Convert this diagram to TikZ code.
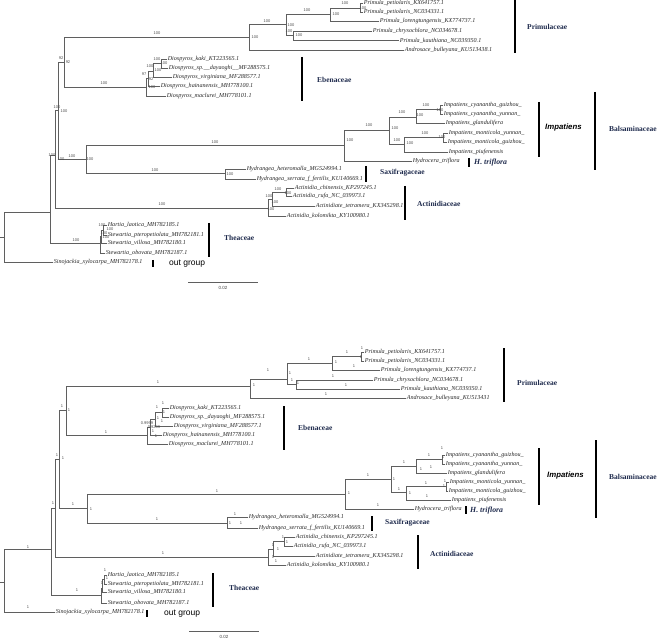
\documentclass[tikz,border=0pt]{standalone}
\usepackage{fontspec}
\setmainfont{Liberation Serif}
\setsansfont{Liberation Sans}
\definecolor{branchgray}{HTML}{5F5F5F}
\definecolor{famblue}{HTML}{1F2B4D}
\usetikzlibrary{positioning}

\begin{document}
\begin{tikzpicture}[
    x=1pt, y=-1pt,
    branch/.style={draw=branchgray, line width=0.7pt},
    leaf/.style={anchor=west, inner sep=0.6pt, text=black!85,
                 font=\fontsize{6.1}{7}\selectfont\itshape},
    supp/.style={inner sep=0pt, text=black!70,
                 font=\sffamily\fontsize{4}{4}\selectfont},
    fam/.style={anchor=west, inner sep=0pt, text=famblue,
                font=\fontsize{7.5}{9}\selectfont\bfseries},
    genus/.style={anchor=west, inner sep=0pt,
                  font=\sffamily\fontsize{7.8}{9}\selectfont\bfseries\itshape},
    outg/.style={anchor=west, inner sep=0pt,
                 font=\sffamily\fontsize{8.5}{10}\selectfont},
    famline/.style={line width=2.6pt},
    scalelbl/.style={inner sep=0pt, text=black!75,
                     font=\sffamily\fontsize{4.5}{5}\selectfont}
  ]
  \useasboundingbox (0,0) rectangle (659,639);

  % ---------------- top tree (bootstrap) ----------------
  \foreach \n/\x/\y in {tRoot/4/237, tA/50/212, tR/55/155, tQ/58/110, tP/64/62,
      tPr/249/37, tN1/286/24.5, tPl/330/14, tPp/360/8, tCk/293/35.5,
      tE0/146/87, tE1/148/78, tE2/153/71, tE3/161/63.5,
      tBH/86/159, tBa/344/145, tI0/389/130, tI1/416/117, tCy/440/109.5,
      tI2/404/144, tMo/443/137.5, tHy/225/173,
      tA0/268/208, tA1/272/199, tA2/286/192,
      tT0/100/243, tT1/101.5/236.5, tT2/103/230}
    \coordinate (\n) at (\x,\y);
  \coordinate (tStub) at (0,237);

  \foreach \n/\x/\y/\t in {
      tPet1/363/3.5/{Primula\_petiolaris\_KX641757.1},
      tPet2/363/12.5/{Primula\_petiolaris\_NC034331.1},
      tLor/379/21.5/{Primula\_lorengtungensis\_KX774737.1},
      tChr/372/31/{Primula\_chrysochlora\_NC034678.1},
      tKau/399/40.5/{Primula\_kauthiana\_NC039350.1},
      tAnd/404/50/{Androsace\_bulleyana\_KU513438.1},
      tKak/167/59/{Diospyros\_kaki\_KT223565.1},
      tDsp/168/68/{Diospyros\_sp.\_\_dayaoghi\_\_MF288575.1},
      tVir/172/77.5/{Diospyros\_virginiana\_MF288577.1},
      tHai/160/86.5/{Diospyros\_hainanensis\_MH778100.1},
      tMac/166/96/{Diospyros\_maclurei\_MH778101.1},
      tCyg/443/105/{Impatiens\_cyanantha\_guizhou\_},
      tCyy/443/114/{Impatiens\_cyanantha\_yunnan\_},
      tGla/445/123/{Impatiens\_glandulifera},
      tMoy/448/133/{Impatiens\_monticola\_yunnan\_},
      tMog/447/142/{Impatiens\_monticola\_guizhou\_},
      tPiu/448/152/{Impatiens\_piufenensis},
      tHyd/412/161/{Hydrocera\_triflora},
      tHet/246/169/{Hydrangea\_heteromalla\_MG524994.1},
      tSer/256/179/{Hydrangea\_serrata\_f\_fertilis\_KU140669.1},
      tChi/294/188/{Actinidia\_chinensis\_KP297245.1},
      tRuf/292/196/{Actinidia\_rufa\_NC\_039973.1},
      tTet/315/206/{Actinidiate\_tetramera\_KX345298.1},
      tKol/286/216/{Actinidia\_kolomikta\_KY100980.1},
      tHar/107/225/{Hartia\_laotica\_MH782185.1},
      tPte/107/235/{Stewartia\_pteropetiolata\_MH782181.1},
      tVil/107/243/{Stewartia\_villosa\_MH782180.1},
      tObo/105/253/{Stewartia\_obovata\_MH782187.1},
      tSin/53/262/{Sinojackia\_xylocarpa\_MH782178.1}}
    \node[leaf] (\n) at (\x,\y) {\t};

  % branches
  \draw[branch] (tStub) -- (tRoot);
  \foreach \p/\c in {tRoot/tA, tA/tR, tA/tT0, tR/tQ, tR/tA0, tQ/tP, tQ/tBH,
      tP/tPr, tP/tE0, tPr/tN1, tN1/tPl, tN1/tCk, tPl/tPp,
      tE0/tE1, tE1/tE2, tE2/tE3, tBH/tBa, tBH/tHy, tBa/tI0, tI0/tI1,
      tI0/tI2, tI1/tCy, tI2/tMo, tA0/tA1, tA1/tA2, tT0/tT1, tT1/tT2}
    \draw[branch] (\p) |- (\c);
  \foreach \p/\c in {tPp/tPet1, tPp/tPet2, tPl/tLor, tCk/tChr, tCk/tKau,
      tPr/tAnd, tE3/tKak, tE3/tDsp, tE2/tVir, tE1/tHai, tE0/tMac,
      tCy/tCyg, tCy/tCyy, tI1/tGla, tMo/tMoy, tMo/tMog, tI2/tPiu,
      tBa/tHyd, tHy/tHet, tHy/tSer, tA2/tChi, tA2/tRuf, tA1/tTet,
      tA0/tKol, tT2/tHar, tT2/tPte, tT1/tVil, tT0/tObo, tRoot/tSin}
    \draw[branch] (\p) |- (\c.west);

  % support values
  \foreach \x/\y/\v [count=\i] in {52/155/100, 61/159/100, 72/156/100,
      90/159/100, 57/107/100, 64/111/100, 61/58/92, 68/62/92, 157/33/100,
      104/83/100, 215/142/100, 155/170/100, 162/204/100, 76/240/100,
      255/37/100, 267/21/100, 291/25/100, 289/31/100, 299/35/100,
      307/10/100, 336/14/100, 345/3/100, 363/7.8/100,
      157/59/100, 150/66/100, 164/63/100, 158/70/100, 144/74/97,
      151/79/92, 152/87/100,
      369/125/100, 350/140/100, 402/112/100, 420/115/100, 426/105/100,
      395/128/100, 397/140/100, 410/143/100, 425/133/100, 440/110/100,
      442/137/100, 230/174/100,
      278/189/100, 288/193/100, 269/196/100, 275/202/100, 271/209/100,
      102/225/100, 110/229/100, 104/233/100, 106/237/100}
    \node[supp] (tS\i) at (\x,\y) {\v};

  % clades
  \node[fam] (tPrimLbl) at (527,27) {Primulaceae};
  \node[fam] (tEbenLbl) at (317,80) {Ebenaceae};
  \node[genus] (tImpLbl) at (545,127) {Impatiens};
  \node[fam] (tBalsLbl) at (609,129) {Balsaminaceae};
  \node[fam, font=\fontsize{7.8}{9}\selectfont\bfseries\itshape]
    (tHtLbl) at (474,163) {H. triflora};
  \node[fam] (tSaxLbl) at (380,173) {Saxifragaceae};
  \node[fam] (tActLbl) at (417,204) {Actinidiaceae};
  \node[fam] (tTheaLbl) at (224,238) {Theaceae};
  \node[outg] (tOutLbl) at (169,264) {out group};
  \draw[famline] (515,0) -- (515,53);
  \draw[famline] (302,57) -- (302,101);
  \draw[famline] (539,102) -- (539,157);
  \draw[famline] (595,92) -- (595,170);
  \draw[famline] (469,158) -- (469,167);
  \draw[famline] (366,166) -- (366,182);
  \draw[famline] (405,186) -- (405,220);
  \draw[famline] (209,223) -- (209,257);
  \draw[famline] (153,260) -- (153,267);

  % scale
  \coordinate (tSc1) at (188,282);
  \coordinate (tSc2) at (258,282);
  \draw[branch] (tSc1) -- (tSc2);
  \node[scalelbl] (tScale) at (223,288) {0.02};

  % ---------------- bottom tree (posterior) ----------------
  \foreach \n/\x/\y in {bRoot/4/582, bA/51/549, bR/55/508, bQ/59/459, bP/66/410,
      bPr/250/386, bN1/287/379, bPl/332/363, bPp/361/356.5, bCk/296/384.5,
      bE0/147/435, bE1/150/427, bE2/155/419, bE3/162/412.5,
      bBH/87/508, bBa/345/494, bI0/391/479, bI1/416/466, bCy/442/459.5,
      bI2/406/492, bMo/446/486.5, bHy/227/523,
      bA0/268/557, bA1/273/549, bA2/284/541.5,
      bT0/101/595, bT1/102.5/588, bT2/104/579.5}
    \coordinate (\n) at (\x,\y);
  \coordinate (bStub) at (0,582);

  \foreach \n/\x/\y/\t in {
      bPet1/364/352/{Primula\_petiolaris\_KX641757.1},
      bPet2/364/361/{Primula\_petiolaris\_NC034331.1},
      bLor/380/370/{Primula\_lorengtungensis\_KX774737.1},
      bChr/373/380/{Primula\_chrysochlora\_NC034678.1},
      bKau/400/389/{Primula\_kauthiana\_NC039350.1},
      bAnd/406/398/{Androsace\_bulleyana\_KU513431},
      bKak/169/408/{Diospyros\_kaki\_KT223565.1},
      bDsp/169/417/{Diospyros\_sp.\_dayaoghi\_MF288575.1},
      bVir/173/426/{Diospyros\_virginiana\_MF288577.1},
      bHai/162/435/{Diospyros\_hainanensis\_MH778100.1},
      bMac/168/444/{Diospyros\_maclurei\_MH778101.1},
      bCyg/445/455/{Impatiens\_cyanantha\_guizhou\_},
      bCyy/445/464/{Impatiens\_cyanantha\_yunnan\_},
      bGla/447/473/{Impatiens\_glandulifera},
      bMoy/449/482/{Impatiens\_monticola\_yunnan\_},
      bMog/448/491/{Impatiens\_monticola\_guizhou\_},
      bPiu/451/500/{Impatiens\_piufenensis},
      bHyd/414/509/{Hydrocera\_triflora},
      bHet/248/517/{Hydrangea\_heteromalla\_MG524994.1},
      bSer/258/528/{Hydrangea\_serrata\_f\_fertilis\_KU140669.1},
      bChi/295/537/{Actinidia\_chinensis\_KP297245.1},
      bRuf/293/546/{Actinidia\_rufa\_NC\_039973.1},
      bTet/315/556/{Actinidiate\_tetramera\_KX345298.1},
      bKol/286/565/{Actinidia\_kolomikta\_KY100980.1},
      bHar/107/575/{Hartia\_laotica\_MH782185.1},
      bPte/107/584/{Stewartia\_pteropetiolata\_MH782181.1},
      bVil/107/592/{Stewartia\_villosa\_MH782180.1},
      bObo/107/603/{Stewartia\_obovata\_MH782187.1},
      bSin/55/612/{Sinojackia\_xylocarpa\_MH782178.1}}
    \node[leaf] (\n) at (\x,\y) {\t};

  % branches
  \draw[branch] (bStub) -- (bRoot);
  \foreach \p/\c in {bRoot/bA, bA/bR, bA/bT0, bR/bQ, bR/bA0, bQ/bP, bQ/bBH,
      bP/bPr, bP/bE0, bPr/bN1, bN1/bPl, bN1/bCk, bPl/bPp,
      bE0/bE1, bE1/bE2, bE2/bE3, bBH/bBa, bBH/bHy, bBa/bI0, bI0/bI1,
      bI0/bI2, bI1/bCy, bI2/bMo, bA0/bA1, bA1/bA2, bT0/bT1, bT1/bT2}
    \draw[branch] (\p) |- (\c);
  \foreach \p/\c in {bPp/bPet1, bPp/bPet2, bPl/bLor, bCk/bChr, bCk/bKau,
      bPr/bAnd, bE3/bKak, bE3/bDsp, bE2/bVir, bE1/bHai, bE0/bMac,
      bCy/bCyg, bCy/bCyy, bI1/bGla, bMo/bMoy, bMo/bMog, bI2/bPiu,
      bBa/bHyd, bHy/bHet, bHy/bSer, bA2/bChi, bA2/bRuf, bA1/bTet,
      bA0/bKol, bT2/bHar, bT2/bPte, bT1/bVil, bT0/bObo, bRoot/bSin}
    \draw[branch] (\p) |- (\c.west);

  % posterior values
  \foreach \x/\y/\v [count=\i] in {28/547/1, 28/607/1, 53/503/1, 73/504/1,
      91/509/1, 163/553/1, 77/590/1, 57/455/1, 63/458/1, 62/406/1, 69/410/1,
      158/382/1, 106/432/1, 217/491/1, 157/519/1,
      254/385/1, 268/370/1, 309/359/1, 290/373/1, 292/380/1, 298/383/1,
      347/352/1, 336/362/1, 354/366/1, 333/376/1, 346/385/1, 326/394/1,
      362/348/1, 361/357/1,
      163/403/1, 157/407/1, 164/412/1, 158/418/1, 162/421/1,
      147/423/0.9999, 154/427/0.9209, 153/431/1, 156/436/1,
      368/475/1, 349/493/1, 378/505/1, 404/462/1, 429/455/1, 442/448/1,
      421/469/1, 431/467/1, 443/457/1, 394/479/1, 399/489/1, 410/493/1,
      426/483/1, 427/496/1, 445/481/1, 444/486/1,
      235/514/1, 230/523/1, 241/523/1,
      283/537/1, 287/542/1, 273/545/1, 278/549/1, 273/557/1, 276/561/1,
      105/570/1, 107/578/1, 102/583/1}
    \node[supp] (bS\i) at (\x,\y) {\v};

  % clades
  \node[fam] (bPrimLbl) at (517,383) {Primulaceae};
  \node[fam] (bEbenLbl) at (298,428) {Ebenaceae};
  \node[genus] (bImpLbl) at (547,475) {Impatiens};
  \node[fam] (bBalsLbl) at (609,477) {Balsaminaceae};
  \node[fam, font=\fontsize{7.8}{9}\selectfont\bfseries\itshape]
    (bHtLbl) at (470,511) {H. triflora};
  \node[fam] (bSaxLbl) at (385,523) {Saxifragaceae};
  \node[fam] (bActLbl) at (430,554) {Actinidiaceae};
  \node[fam] (bTheaLbl) at (229,588) {Theaceae};
  \node[outg] (bOutLbl) at (164,614) {out group};
  \draw[famline] (504,348) -- (504,402);
  \draw[famline] (284,406) -- (284,450);
  \draw[famline] (539,448) -- (539,505);
  \draw[famline] (596,440) -- (596,518);
  \draw[famline] (466,506) -- (466,514);
  \draw[famline] (372,516) -- (372,531);
  \draw[famline] (418,535) -- (418,569);
  \draw[famline] (213,573) -- (213,607);
  \draw[famline] (147,610) -- (147,617);

  % scale
  \coordinate (bSc1) at (189,631);
  \coordinate (bSc2) at (259,631);
  \draw[branch] (bSc1) -- (bSc2);
  \node[scalelbl] (bScale) at (224,636.5) {0.02};
\end{tikzpicture}
\end{document}
